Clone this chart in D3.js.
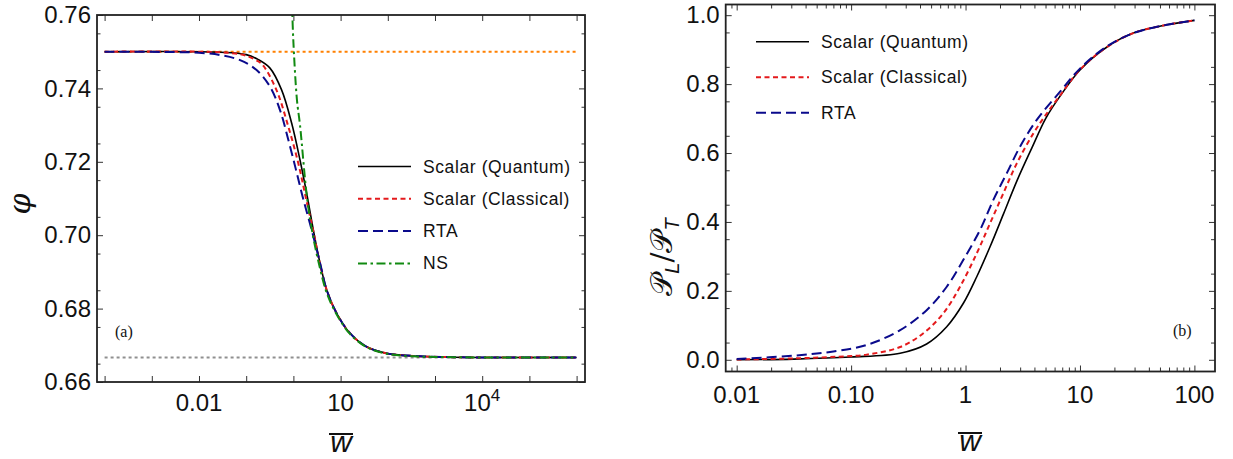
<!DOCTYPE html>
<html>
<head>
<meta charset="utf-8">
<script src="https://cdn.jsdelivr.net/npm/d3@7"></script>
<style>
  body { margin: 0; background: #fff; }
  text { font-family: "Liberation Sans", Arial, sans-serif; fill: #111; }
</style>
</head>
<body>
<svg id="chart" width="1233" height="459"></svg>
<script>

// ---- panel (a): phi vs w-bar ----
var quantumW   = [1e-4, 0.01, 0.05, 0.1, 0.178, 0.316, 0.562, 0.92, 1.38, 1.97, 2.63, 3.66, 5.07, 8.26, 15.8, 35.7, 94.8, 347, 1585, 1e4, 1e6];
var quantumPhi = [0.75, 0.75, 0.7497, 0.7492, 0.7479, 0.7456, 0.7396, 0.7305, 0.7205, 0.7105, 0.7016, 0.6924, 0.6851, 0.6787, 0.6733, 0.6696, 0.6678, 0.6671, 0.6668, 0.66668, 0.66667];

var classicalW   = [1e-4, 0.01, 0.05, 0.1, 0.178, 0.23, 0.443, 0.78, 1.27, 1.85, 2.63, 3.66, 5.07, 8.26, 15.8, 35.7, 94.8, 347, 1585, 1e4, 1e6];
var classicalPhi = [0.75, 0.75, 0.7496, 0.7489, 0.7474, 0.7462, 0.7394, 0.7296, 0.7196, 0.710, 0.7012, 0.6922, 0.6851, 0.6787, 0.6733, 0.6696, 0.6678, 0.6671, 0.6668, 0.66668, 0.66667];

var rtaW   = [1e-4, 0.003, 0.01, 0.028, 0.074, 0.166, 0.319, 0.52, 0.78, 1.135, 1.57, 2.44, 3.66, 5.07, 8.26, 15.8, 35.7, 94.8, 347, 1585, 1e4, 1e6];
var rtaPhi = [0.75, 0.7499, 0.7497, 0.7491, 0.7477, 0.745, 0.7405, 0.7341, 0.726, 0.7178, 0.7105, 0.7014, 0.6925, 0.6851, 0.6787, 0.6733, 0.6696, 0.6678, 0.6671, 0.6668, 0.66668, 0.66667];

var nsW   = [0.933, 0.995, 1.19, 1.38, 1.97, 2.63, 3.66, 5.07, 8.26, 15.8, 35.7, 94.8, 347, 1585, 1e4, 1e6];
var nsPhi = [0.7635, 0.7532, 0.7368, 0.7300, 0.7096, 0.6995, 0.6910, 0.6843, 0.6784, 0.6731, 0.6695, 0.6677, 0.6670, 0.6668, 0.66668, 0.66667];

var idealPhi = 0.75;        // orange dotted
var conformalPhi = 2 / 3;   // gray dotted
var refRangeA = [1e-4, 1e6];

var yTicksA = [0.66, 0.68, 0.70, 0.72, 0.74, 0.76];
var xTicksA = [1e-4, 1e-3, 1e-2, 1e-1, 1, 10, 100, 1e3, 1e4, 1e5, 1e6];
var xLabelsA = [{v: 0.01, base: "0.01"}, {v: 10, base: "10"}, {v: 1e4, base: "10", sup: "4"}];

// ---- panel (b): P_L / P_T vs w-bar ----
var quantumWb = [0.01, 0.0316, 0.1, 0.268, 0.457, 0.685, 0.957, 1.253, 1.637, 2.138, 2.818, 3.80, 5.01, 6.70, 10, 17.1, 29.3, 57.4, 100];
var quantumR  = [0.000, 0.002, 0.008, 0.019, 0.046, 0.096, 0.164, 0.241, 0.328, 0.422, 0.520, 0.615, 0.700, 0.765, 0.841, 0.907, 0.948, 0.972, 0.985];

var classicalWb = [0.01, 0.0316, 0.1, 0.137, 0.268, 0.428, 0.64, 0.895, 1.253, 1.637, 2.138, 2.805, 3.917, 5.01, 6.70, 10, 17.1, 29.3, 57.4, 100];
var classicalR  = [0.001, 0.004, 0.011, 0.015, 0.037, 0.077, 0.135, 0.212, 0.309, 0.396, 0.483, 0.570, 0.657, 0.710, 0.767, 0.842, 0.907, 0.948, 0.972, 0.985];

var rtaWb = [0.01, 0.0316, 0.07, 0.137, 0.268, 0.457, 0.685, 0.957, 1.34, 1.75, 2.29, 3.0, 4.19, 6.70, 10, 17.1, 29.3, 57.4, 100];
var rtaR  = [0.002, 0.012, 0.024, 0.043, 0.086, 0.144, 0.212, 0.290, 0.377, 0.464, 0.541, 0.619, 0.696, 0.778, 0.845, 0.909, 0.948, 0.972, 0.985];

var yTicksB = [0.0, 0.2, 0.4, 0.6, 0.8, 1.0];
var xTicksB = [0.01, 0.1, 1, 10, 100];
var xLabelsB = ["0.01", "0.10", "1", "10", "100"];

var legendA = ["Scalar (Quantum)", "Scalar (Classical)", "RTA", "NS"];
var legendB = ["Scalar (Quantum)", "Scalar (Classical)", "RTA"];

// line styles
var styles = {
  quantum:   {color: "#000000", dash: null,            width: 1.6},
  classical: {color: "#e41a1c", dash: "5,3.5",         width: 2},
  rta:       {color: "#0a0a8c", dash: "10,5",          width: 2},
  ns:        {color: "#118a11", dash: "9,3.5,2.5,3.5", width: 2},
  ideal:     {color: "#ff8000", dash: "3,3",           width: 2},
  conf:      {color: "#909090", dash: "3,3",           width: 2}
};

var svg = d3.select("#chart");

function zip(xs, ys) { return xs.map(function(x, i) { return [x, ys[i]]; }); }

function minorsLog(domain) {
  var out = [];
  for (var e = -3; e <= 3; e++) {
    for (var m = 2; m <= 9; m++) {
      var v = m * Math.pow(10, e);
      if (v > domain[0] && v < domain[1]) out.push(v);
    }
  }
  return out;
}

function drawPanel(p) {
  var g = svg.append("g");
  var x = p.x, y = p.y;
  var x0 = x.range()[0], x1 = x.range()[1], y0 = y.range()[0], y1 = y.range()[1];

  var clipId = "clip" + p.id;
  svg.append("clipPath").attr("id", clipId)
    .append("rect").attr("x", x0).attr("y", y1).attr("width", x1 - x0).attr("height", y0 - y1);

  // ticks (inward on all four sides)
  function styleAxis(sel) {
    sel.select(".domain").remove();
    sel.selectAll(".tick line").attr("stroke", "#333").attr("stroke-width", 1);
    sel.selectAll(".tick text").style("font-size", "24px").attr("fill", "#111");
  }
  g.append("g").attr("transform", "translate(" + x0 + ",0)")
    .call(d3.axisLeft(y).tickValues(p.yMajor).tickSize(-p.major).tickPadding(6).tickFormat(d3.format(p.yFmt)))
    .call(styleAxis);
  g.append("g").attr("transform", "translate(" + x0 + ",0)")
    .call(d3.axisLeft(y).tickValues(p.yMinor).tickSize(-p.minor).tickFormat(""))
    .call(styleAxis);
  g.append("g").attr("transform", "translate(" + x1 + ",0)")
    .call(d3.axisRight(y).tickValues(p.yMajor).tickSize(-p.major).tickFormat(""))
    .call(styleAxis);
  g.append("g").attr("transform", "translate(" + x1 + ",0)")
    .call(d3.axisRight(y).tickValues(p.yMinor).tickSize(-p.minor).tickFormat(""))
    .call(styleAxis);
  g.append("g").attr("transform", "translate(0," + y0 + ")")
    .call(d3.axisBottom(x).tickValues(p.xMajor).tickSize(-p.major).tickFormat(""))
    .call(styleAxis);
  g.append("g").attr("transform", "translate(0," + y1 + ")")
    .call(d3.axisTop(x).tickValues(p.xMajor).tickSize(-p.major).tickFormat(""))
    .call(styleAxis);
  if (p.xMinor.length) {
    g.append("g").attr("transform", "translate(0," + y0 + ")")
      .call(d3.axisBottom(x).tickValues(p.xMinor).tickSize(-p.minor).tickFormat(""))
      .call(styleAxis);
    g.append("g").attr("transform", "translate(0," + y1 + ")")
      .call(d3.axisTop(x).tickValues(p.xMinor).tickSize(-p.minor).tickFormat(""))
      .call(styleAxis);
  }

  // reference lines + curves
  var line = d3.line()
    .x(function(d) { return x(d[0]); })
    .y(function(d) { return y(d[1]); })
    .curve(d3.curveCatmullRom.alpha(0.5));
  var plot = g.append("g").attr("clip-path", "url(#" + clipId + ")");
  p.series.forEach(function(s) {
    var st = styles[s.style];
    plot.append("path")
      .attr("d", line(s.data))
      .attr("fill", "none")
      .attr("stroke", st.color)
      .attr("stroke-width", st.width)
      .attr("stroke-dasharray", st.dash);
  });

  // frame
  g.append("rect")
    .attr("x", x0).attr("y", y1).attr("width", x1 - x0).attr("height", y0 - y1)
    .attr("fill", "none").attr("stroke", "#222").attr("stroke-width", 1.8);

  // legend
  var lg = g.append("g");
  p.legend.forEach(function(name, i) {
    var st = styles[p.legendStyles[i]];
    var ly = p.legendY + i * p.legendStep;
    lg.append("line")
      .attr("x1", p.legendX).attr("x2", p.legendX + 53)
      .attr("y1", ly).attr("y2", ly)
      .attr("stroke", st.color).attr("stroke-width", st.width)
      .attr("stroke-dasharray", st.dash);
    lg.append("text")
      .attr("x", p.legendX + 65).attr("y", ly + 6)
      .style("font-size", "17.5px").style("letter-spacing", "0.6px")
      .text(name);
  });

  // w-bar axis label
  g.append("text")
    .attr("x", p.wLabel[0]).attr("y", p.wLabel[1])
    .attr("text-anchor", "middle")
    .style("font-size", "30px").style("font-style", "italic")
    .text("w");
  g.append("line")
    .attr("x1", p.wLabel[0] - 12).attr("x2", p.wLabel[0] + 12)
    .attr("y1", p.wLabel[1] - 18).attr("y2", p.wLabel[1] - 18)
    .attr("stroke", "#111").attr("stroke-width", 2);

  // panel tag
  g.append("text")
    .attr("x", p.tag[0]).attr("y", p.tag[1])
    .style("font-family", "'Liberation Serif', 'DejaVu Serif', serif")
    .style("font-size", "16px")
    .text(p.tagText);

  return g;
}

// ---- panel (a) ----
var xA = d3.scaleLog().domain([Math.pow(10, -4.161), Math.pow(10, 6.178)]).range([97, 585]);
var yA = d3.scaleLinear().domain([0.66, 0.76]).range([382, 15]);
var yMinorA = d3.range(0.665, 0.76, 0.01);

var gA = drawPanel({
  id: "A", x: xA, y: yA, major: 6, minor: 3.5,
  yMajor: yTicksA, yMinor: yMinorA, yFmt: ".2f",
  xMajor: xTicksA, xMinor: [],
  series: [
    {style: "ideal", data: [[refRangeA[0], idealPhi], [refRangeA[1], idealPhi]]},
    {style: "conf",  data: [[refRangeA[0], conformalPhi], [refRangeA[1], conformalPhi]]},
    {style: "quantum",   data: zip(quantumW, quantumPhi)},
    {style: "classical", data: zip(classicalW, classicalPhi)},
    {style: "rta",       data: zip(rtaW, rtaPhi)},
    {style: "ns",        data: zip(nsW, nsPhi)}
  ],
  legend: legendA, legendStyles: ["quantum", "classical", "rta", "ns"],
  legendX: 358, legendY: 166.5, legendStep: 32.3,
  wLabel: [341, 452], tag: [115, 337], tagText: "(a)"
});

// x tick labels with superscript
xLabelsA.forEach(function(t) {
  var tx = gA.append("text")
    .attr("x", xA(t.v)).attr("y", 411)
    .attr("text-anchor", "middle")
    .style("font-size", "24px");
  tx.append("tspan").text(t.base);
  if (t.sup) {
    tx.append("tspan").attr("dy", -10).style("font-size", "17px").text(t.sup);
  }
});

// phi label
gA.append("text")
  .attr("transform", "translate(30,204) rotate(-90)")
  .attr("text-anchor", "middle")
  .style("font-family", "'DejaVu Serif', serif")
  .style("font-size", "30px").style("font-style", "italic")
  .text("\u03C6");

// ---- panel (b) ----
var xB = d3.scaleLog().domain([Math.pow(10, -2.096), Math.pow(10, 2.18)]).range([725.7, 1215]);
var yB = d3.scaleLinear().domain([-0.034, 1.031]).range([371.5, 4.5]);
var yMinorB = d3.range(0.05, 1.0, 0.1);

var gB = drawPanel({
  id: "B", x: xB, y: yB, major: 6, minor: 4,
  yMajor: yTicksB, yMinor: yMinorB, yFmt: ".1f",
  xMajor: xTicksB, xMinor: minorsLog(xB.domain()),
  series: [
    {style: "quantum",   data: zip(quantumWb, quantumR)},
    {style: "classical", data: zip(classicalWb, classicalR)},
    {style: "rta",       data: zip(rtaWb, rtaR)}
  ],
  legend: legendB, legendStyles: ["quantum", "classical", "rta"],
  legendX: 756, legendY: 41.7, legendStep: 35.5,
  wLabel: [970, 451], tag: [1173, 336], tagText: "(b)"
});

xTicksB.forEach(function(v, i) {
  gB.append("text")
    .attr("x", xB(v)).attr("y", 403)
    .attr("text-anchor", "middle")
    .style("font-size", "24px")
    .text(xLabelsB[i]);
});

// P_L / P_T label
var pl = gB.append("text")
  .attr("transform", "translate(672,257) rotate(-90)")
  .attr("text-anchor", "middle")
  .style("font-family", "'DejaVu Serif', 'DejaVu Sans', serif")
  .style("font-size", "30px");
pl.append("tspan").text("\uD835\uDCAB");
pl.append("tspan").attr("dy", 7).style("font-size", "20px").style("font-style", "italic").style("font-family", "'Liberation Sans', sans-serif").text("L");
pl.append("tspan").attr("dy", -7).text("/");
pl.append("tspan").text("\uD835\uDCAB");
pl.append("tspan").attr("dy", 7).style("font-size", "20px").style("font-style", "italic").style("font-family", "'Liberation Sans', sans-serif").text("T");

</script>
</body>
</html>
